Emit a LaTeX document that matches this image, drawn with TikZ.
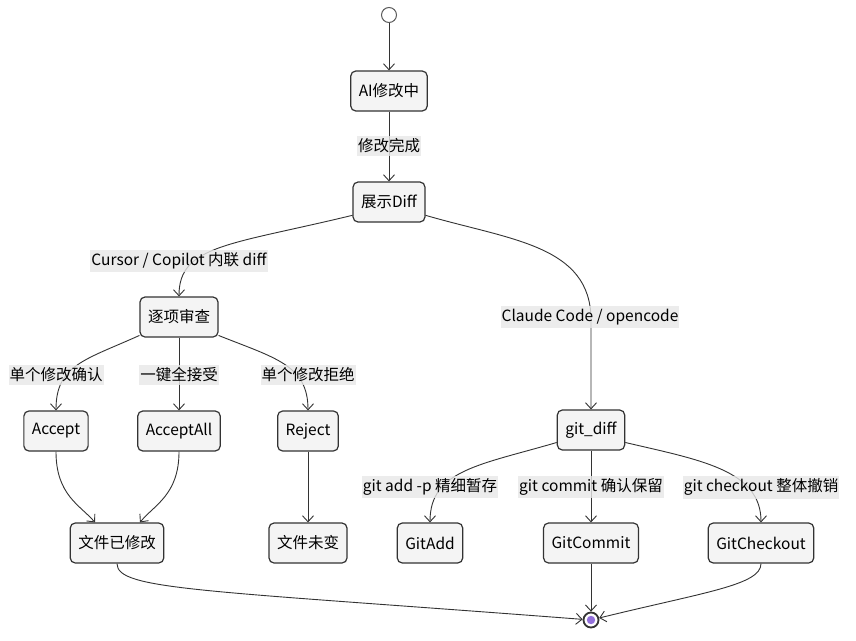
\documentclass[tikz,border=0pt]{standalone}
\usepackage{fontspec}
\setmainfont{Noto Sans CJK SC}
\usetikzlibrary{arrows.meta}
\definecolor{boxfill}{HTML}{F4F4F4}
\definecolor{boxline}{HTML}{333333}
\definecolor{lblfill}{HTML}{E8E8E8}
\definecolor{endfill}{HTML}{9370DB}
\tikzstyle{every node}=[font=\fontsize{15.5pt}{18pt}\selectfont,text=black]
\tikzstyle{stbox}=[draw=boxline,fill=boxfill,line width=1.2pt,rounded corners=5pt,inner xsep=8pt,minimum height=40pt]
\tikzstyle{lbl}=[fill=lblfill,fill opacity=0.8,text opacity=1,inner xsep=1pt,inner ysep=3pt]
\tikzstyle{trans}=[draw=boxline,line width=0.9pt,-{Straight Barb[length=6pt,width=11pt]}]

\begin{document}
\begin{tikzpicture}[x=1pt,y=-1pt]
  \fill[white] (0,0) rectangle (856,640);
  \useasboundingbox (0,0) rectangle (856,640);

  \node[circle,draw=boxline!80,fill=white,line width=1pt,minimum size=15pt,inner sep=0pt] (start) at (389,15) {};
  \node[stbox] (aiedit) at (389,91) {AI修改中};
  \node[stbox] (showdiff) at (389,202) {展示Diff};
  \node[stbox] (review) at (179,317) {逐项审查};
  \node[stbox] (accept) at (56,431) {Accept};
  \node[stbox] (acceptall) at (179,431) {AcceptAll};
  \node[stbox] (reject) at (308,431) {Reject};
  \node[stbox] (changed) at (117,543) {文件已修改};
  \node[stbox] (unchanged) at (308,543) {文件未变};
  \node[stbox] (gitdiff) at (591,430) {git\_diff};
  \node[stbox] (gitadd) at (430,543) {GitAdd};
  \node[stbox] (gitcommit) at (591,543) {GitCommit};
  \node[stbox] (gitcheckout) at (761,543) {GitCheckout};
  \node[circle,draw=boxline,fill=white,line width=1.8pt,minimum size=15pt,inner sep=0pt] (finish) at (591,620) {};
  \fill[endfill] (finish.center) circle (4.2pt);

  \draw[trans] (start) -- (aiedit);
  \draw[trans] (aiedit) -- (showdiff);
  \draw[trans] (showdiff.200) .. controls (230,245) and (179,245) .. (review.north);
  \draw[trans] (showdiff.340) .. controls (510,240) and (591,245) .. (591,320) -- (gitdiff);
  \draw[trans] (review.205) .. controls (85,360) and (56,365) .. (accept.north);
  \draw[trans] (review) -- (acceptall);
  \draw[trans] (review.335) .. controls (275,358) and (308,365) .. (reject.north);
  \draw[trans] (accept.south) .. controls (56,495) and (80,505) .. ([xshift=-22pt]changed.north);
  \draw[trans] (acceptall.south) .. controls (179,495) and (154,505) .. ([xshift=23pt]changed.north);
  \draw[trans] (reject) -- (unchanged);
  \draw[trans] (changed.south) .. controls (117,590) and (200,590) .. (finish);
  \draw[trans] (gitdiff.200) .. controls (480,465) and (430,470) .. (gitadd.north);
  \draw[trans] (gitdiff) -- (gitcommit);
  \draw[trans] (gitdiff.340) .. controls (700,460) and (761,470) .. (gitcheckout.north);
  \draw[trans] (gitcommit) -- (finish);
  \draw[trans] (gitcheckout.south) .. controls (761,585) and (705,592) .. (finish);

  \node[lbl] (ldone) at (389,146) {修改完成};
  \node[lbl] (linline) at (179,261) {Cursor / Copilot 内联 diff};
  \node[lbl] (lclaude) at (590,317) {Claude Code / opencode};
  \node[lbl] (lone) at (56,375) {单个修改确认};
  \node[lbl] (lall) at (179,375) {一键全接受};
  \node[lbl] (lrej) at (308,375) {单个修改拒绝};
  \node[lbl] (ladd) at (430,487) {git add -p 精细暂存};
  \node[lbl] (lcommit) at (591,487) {git commit 确认保留};
  \node[lbl] (lcheckout) at (761,487) {git checkout 整体撤销};
\end{tikzpicture}
\end{document}
